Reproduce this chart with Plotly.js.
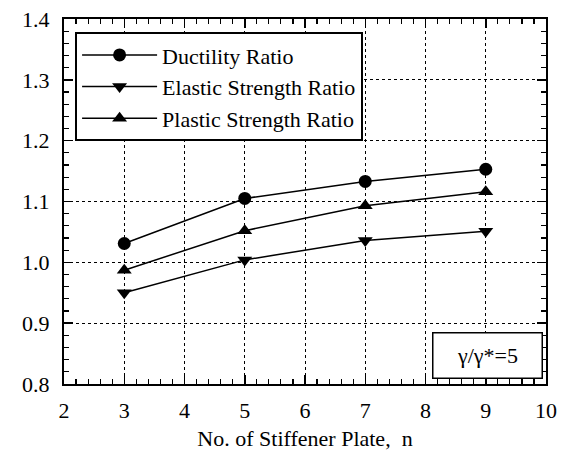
<!DOCTYPE html>
<html>
<head>
<meta charset="utf-8">
<script src="https://cdn.plot.ly/plotly-3.0.1.min.js"></script>
<style>html,body{margin:0;padding:0;background:#fff;}</style>
</head>
<body>
<div id="chart" style="width:565px;height:458px;"></div>
<script>
const plates = [3, 5, 7, 9];
const ductilityRatio = [1.031, 1.105, 1.133, 1.153];
const elasticStrengthRatio = [0.950, 1.004, 1.036, 1.051];
const plasticStrengthRatio = [0.987, 1.052, 1.093, 1.116];
const seriesNames = ["Ductility Ratio", "Elastic Strength Ratio", "Plastic Strength Ratio"];
const xRange = [2, 10];
const yRange = [0.8, 1.4];
const noteText = "γ/γ*=5";

const font = "Liberation Serif";
const lineStyle = {color: "#000", width: 1.5};

const traces = [
  {x: plates, y: ductilityRatio, name: seriesNames[0], mode: "lines+markers",
   line: lineStyle, marker: {symbol: "circle", size: 13, color: "#000"}},
  {x: plates, y: elasticStrengthRatio, name: seriesNames[1], mode: "lines+markers",
   line: lineStyle, marker: {symbol: "triangle-down", size: 13, color: "#000"}},
  {x: plates, y: plasticStrengthRatio, name: seriesNames[2], mode: "lines+markers",
   line: lineStyle, marker: {symbol: "triangle-up", size: 13, color: "#000"}},
  // invisible helper trace so the mirrored (top/right) axes carry minor ticks too
  {x: plates, y: ductilityRatio, xaxis: "x2", yaxis: "y2", mode: "markers",
   marker: {opacity: 0}, showlegend: false, hoverinfo: "skip"}
];

const axisCommon = {
  showline: true, linecolor: "#000", linewidth: 2, mirror: "allticks",
  ticks: "inside", ticklen: 9, tickwidth: 1.5, tickcolor: "#000",
  showgrid: true, gridcolor: "#000", griddash: "dot", gridwidth: 1,
  zeroline: false, tickfont: {family: font, size: 22, color: "#000"}
};
const xMinor = {tickmode: "linear", tick0: 2, dtick: 0.2, ticks: "inside", ticklen: 5, tickwidth: 1.2, tickcolor: "#000", showgrid: false};
const yMinor = {tickmode: "linear", tick0: 0.8, dtick: 0.02, ticks: "inside", ticklen: 5, tickwidth: 1.2, tickcolor: "#000", showgrid: false};

const layout = {
  width: 565, height: 458,
  margin: {l: 64, r: 19, t: 19, b: 74},
  paper_bgcolor: "#fff", plot_bgcolor: "#fff",
  font: {family: font, color: "#000"},
  showlegend: true,
  legend: {
    x: 0.023, y: 0.964, xanchor: "left", yanchor: "top",
    bgcolor: "#fff", bordercolor: "#000", borderwidth: 2,
    font: {family: font, size: 22, color: "#000"},
    itemwidth: 75, tracegroupgap: 0
  },
  xaxis: Object.assign({}, axisCommon, {
    range: xRange, tickmode: "linear", tick0: 2, dtick: 1,
    ticklabelstandoff: 6, minor: xMinor,
    title: {text: "No. of Stiffener Plate,  n", font: {family: font, size: 22, color: "#000"}, standoff: 8}
  }),
  yaxis: Object.assign({}, axisCommon, {
    range: yRange, tickmode: "linear", tick0: 0.8, dtick: 0.1, tickformat: ".1f",
    ticklabelstandoff: 8, minor: yMinor
  }),
  xaxis2: {
    overlaying: "x", side: "top", anchor: "y2", range: xRange, tickmode: "linear", tick0: 2, dtick: 1,
    ticks: "inside", ticklen: 9, tickwidth: 1.5, tickcolor: "#000", showticklabels: false,
    showgrid: false, zeroline: false, showline: false, minor: xMinor
  },
  yaxis2: {
    overlaying: "y", side: "right", anchor: "x2", range: yRange, tickmode: "linear", tick0: 0.8, dtick: 0.1,
    ticks: "inside", ticklen: 9, tickwidth: 1.5, tickcolor: "#000", showticklabels: false,
    showgrid: false, zeroline: false, showline: false, minor: yMinor
  },
  annotations: [{
    xref: "paper", yref: "paper", x: 0.878, y: 0.079, xanchor: "center", yanchor: "middle",
    text: noteText, showarrow: false, font: {family: font, size: 22, color: "#000"},
    bgcolor: "#fff", bordercolor: "#000", borderwidth: 1.5, borderpad: 4,
    width: 100, height: 36
  }]
};

Plotly.newPlot("chart", traces, layout, {displayModeBar: false, staticPlot: true});
</script>
</body>
</html>
